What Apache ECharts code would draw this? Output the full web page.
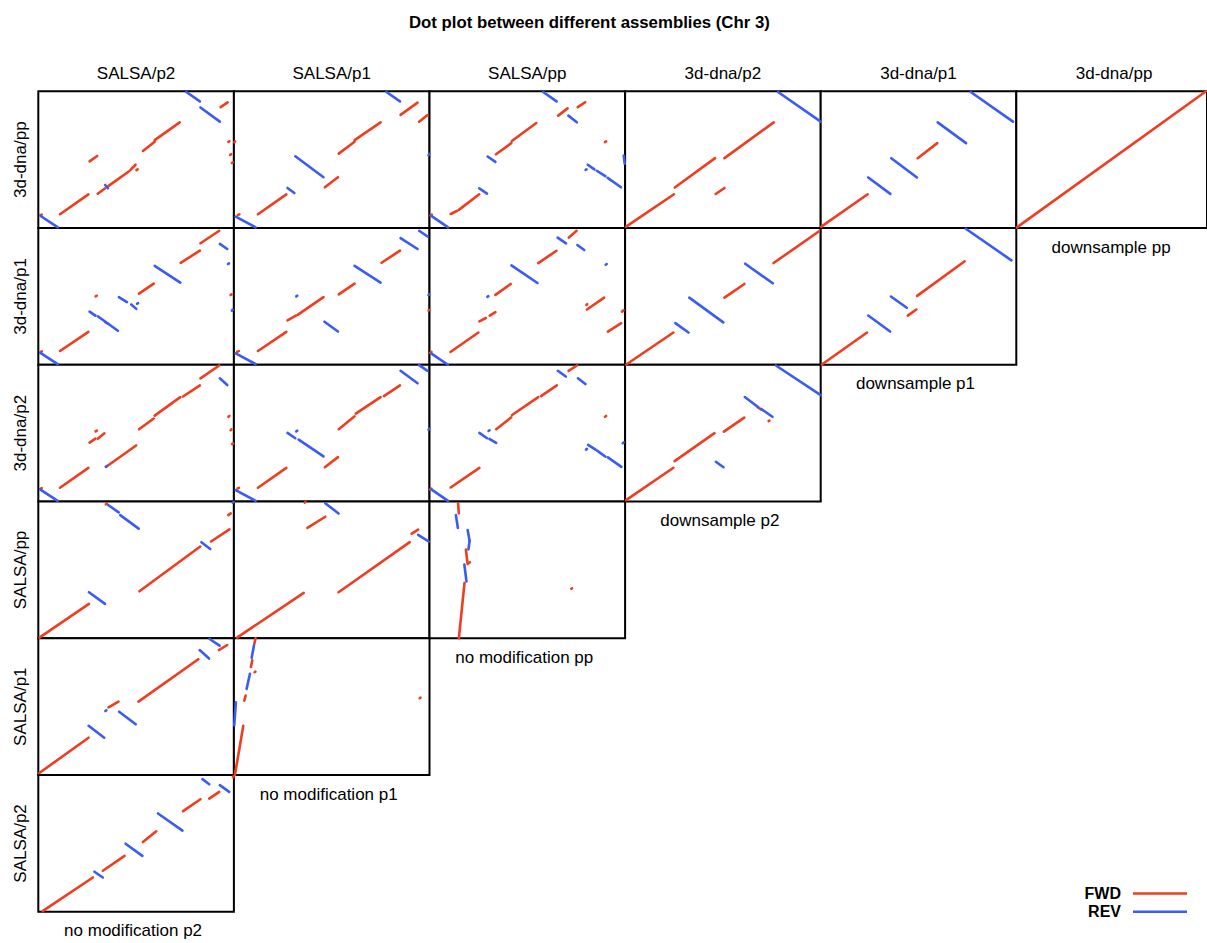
<!DOCTYPE html>
<html>
<head>
<meta charset="utf-8">
<title>Dot plot between different assemblies (Chr 3)</title>
<script src="https://cdn.jsdelivr.net/npm/echarts@6/dist/echarts.min.js"></script>
<style>
  html, body { margin: 0; padding: 0; background: #fff; }
  #chart { width: 1207px; height: 943px; }
</style>
</head>
<body>
<div id="chart"></div>
<script>
// Assembly names along the columns (query) and rows (reference)
const colLabels = ['SALSA/p2', 'SALSA/p1', 'SALSA/pp', '3d-dna/p2', '3d-dna/p1', '3d-dna/pp'];
const rowLabels = ['3d-dna/pp', '3d-dna/p1', '3d-dna/p2', 'SALSA/pp', 'SALSA/p1', 'SALSA/p2'];
// Labels under the self-comparison panels, one per row
const diagLabels = ['downsample pp', 'downsample p1', 'downsample p2', 'no modification pp', 'no modification p1', 'no modification p2'];
const legendLabels = ['FWD', 'REV'];

// Alignment segments in percent of each chromosome: [x1, y1, x2, y2]
// Row 3d-dna/pp
const fwd_Dpp_Sp2 = [[1,9.2,1.8,9.8],[11.1,10.1,25.6,24.6],[30.4,25.1,34.2,29.1],[35.6,30.5,46.4,41.5],[47,42.4,49.7,46.3],[50.2,42.4,50.8,43],[26.2,48.8,30.1,52.7],[53.5,56.4,59.5,63.1],[59.5,64.3,72.3,77.3],[93.2,88.4,96.8,91.9],[97.2,63,97.7,63.5],[98.1,53.5,98.6,54],[99,47.6,99.5,48.1]];
const rev_Dpp_Sp2 = [[1,9,10,0.5],[34.2,31.5,35.6,29.1],[75.7,99.5,82.6,92.6],[82.9,88.2,92.8,77.8]];
const fwd_Dpp_Sp1 = [[2,9.6,2.8,10],[12.3,10.1,26.8,24.6],[46.5,29.8,53.2,37.2],[53.6,54.4,61.7,63.1],[61.7,64.3,75,77.3],[85.2,82.8,93.9,91.7],[94.7,77.8,99,82.6],[0.2,62.8,0.6,63.3]];
const rev_Dpp_Sp1 = [[0.9,8.4,11.1,0.5],[27.4,29.3,30.9,25.6],[31.4,52.5,45.8,37.2],[78,99.5,84.9,92.6],[99.5,53.3,99.9,54.2]];
const fwd_Dpp_Spp = [[0.5,9.2,1.2,9.8],[10.8,10.3,14,12.5],[15,13.3,25.4,24.7],[34,54,41.8,62.1],[42.1,63.6,54.6,76.8],[65.8,82.2,70.6,87.5],[75.8,88.4,79.6,92],[89.7,62.9,90.3,63.4]];
const rev_Dpp_Spp = [[0.9,8.9,9.5,0.5],[25.4,29.1,29.4,25.2],[29.7,52.3,33.7,48.4],[58.1,99.5,65,92.6],[71,82.2,75.3,77.3],[80.9,46.3,84.3,42.9],[85.5,41.9,89.9,37.9],[91.1,36.7,97.9,29.8],[99.3,53,99.8,47],[79.8,42.5,80.3,42.9]];
const fwd_Dpp_Dp2 = [[0.5,1,25,24.7],[25.4,29.6,46,51.1],[50.8,51.1,76,77.3],[46.3,24.9,50.8,29.3]];
const rev_Dpp_Dp2 = [[78.2,99.5,100,77.8]];
const fwd_Dpp_Dp1 = [[0.3,1,24,24.7],[49.6,51.1,59.6,62.1]];
const rev_Dpp_Dp1 = [[24.3,37,35.6,25],[36.1,51.1,49.2,37],[59.8,77.3,74.3,62.1],[76.7,99.5,98.3,77.8]];
const fwd_Dpp_Dpp = [[0.3,0.5,99.5,100]];
const rev_Dpp_Dpp = [];
// Row 3d-dna/p1
const fwd_Dp1_Sp2 = [[1,9.2,1.8,9.8],[11.1,10.1,25.6,24.1],[34.2,31.2,35.4,30.2],[29.3,50,29.9,50.5],[51.5,52,59,59.4],[72.8,74.6,82.6,83.5],[82.9,88.9,92.5,98],[98.3,51,98.8,51.5]];
const rev_Dp1_Sp2 = [[0.9,8.9,9.9,0.5],[26.2,38.9,29.2,36],[30.4,35.5,40.7,24.9],[41.2,49.5,45.3,45.8],[47.5,44.1,50.1,40.9],[50.5,44.6,51,45.1],[59.5,72.4,72.6,60.1],[92.8,88.4,96.6,84.7],[97,73.7,97.5,74.2],[99,39.6,99.4,40.3]];
const fwd_Dp1_Sp1 = [[1.7,9.6,2.5,10],[12.3,10.1,26.8,24.1],[27.4,32.5,31.7,36],[32.6,36.5,45.8,49.5],[53.6,51.5,61.7,59.4],[75.5,74.6,84.9,83.5],[99.5,39.6,99.9,40.2]];
const rev_Dp1_Sp1 = [[0.9,8.4,11.1,0.5],[31.9,50,32.4,50.5],[46.3,31.5,53.2,24.4],[61.7,72.4,75,60.1],[85.2,92.6,93.9,84.7],[94.7,98,99,93.8],[99.5,51,99.9,51.6]];
const fwd_Dp1_Spp = [[0.3,8.8,1,9.4],[10.7,9.4,25,23.6],[25.5,31.8,28.8,34.2],[30.8,36,33.7,38.5],[33.7,51.1,41.5,59.1],[55.6,74.4,64.9,83.4],[71.2,93,75.2,98],[80.5,40.4,89.3,49.1],[80.2,43.8,80.6,44.3],[91.2,24.3,98,30.5],[98.4,38.9,99.2,39.8]];
const rev_Dp1_Spp = [[1,8.2,9.4,0],[29.6,49.7,30.1,50.2],[41.9,72.7,55.2,59.8],[65.5,93,69.8,88.8],[75.6,87.6,79.1,83.9],[90.1,73.2,90.6,73.7]];
const fwd_Dp1_Dp2 = [[0.6,0.2,24.7,23.6],[50.8,49.1,61,59.1],[75.9,74.4,99,97.5]];
const rev_Dp1_Dp2 = [[25.7,30.5,32.4,23.6],[32.8,49.1,50.2,31],[61.4,73.9,75.5,59.6]];
const fwd_Dp1_Dp1 = [[0.6,0.2,23.7,23.6],[44.5,36,48.9,40.4],[49.3,50.4,73.6,75.7]];
const rev_Dp1_Dp1 = [[24.3,36,35.5,24.3],[35.9,49.9,44,41.7],[74.2,99.5,97.5,76.4]];
// Row 3d-dna/p2
const fwd_Dp2_Sp2 = [[1,9.2,1.8,9.8],[11.1,10.1,25.6,24.6],[34.7,25.4,50,41],[26.2,43.1,29.2,46],[30.4,46,33.8,49.9],[29.3,51.3,29.9,51.9],[51.5,52.9,59,60.7],[59.5,62.8,72.6,76.4],[74,76.8,82.6,84.9],[82.9,90.1,92.5,99.5],[97.2,62,97.7,62.6],[98.3,52.2,98.8,52.8],[99.1,42,99.6,42.5]];
const rev_Dp2_Sp2 = [[0.9,8.9,9.9,0.5],[34.5,25.4,35,25.9],[92.8,90.1,96.6,85.2]];
const fwd_Dp2_Sp1 = [[1.9,9.6,2.6,10],[12.3,10.1,26.8,24.6],[46.5,25.1,53.2,32.5],[53.6,52.9,61.7,62.3],[62.3,64.3,75,76.4],[76.7,77.1,84.9,84.9]];
const rev_Dp2_Sp1 = [[0.9,8.4,11.1,0.5],[27.4,50.2,31.4,46.3],[31.9,51.3,32.4,51.8],[33.1,45.3,45.8,33],[85.2,95.6,93.9,86.5],[94.7,99.8,99,95.6],[99.5,52.5,99.9,53.3]];
const fwd_Dp2_Spp = [[0.3,8.8,1,9.4],[10.8,10.3,25.5,24.6],[34.1,52.9,41.8,61.6],[42.2,63.3,55.6,76.4],[57,77.1,65.1,84.9],[71.1,95.6,75.4,99.5],[89.7,62,90.3,62.6]];
const rev_Dp2_Spp = [[0.9,8.9,9.5,0.5],[25.5,50.2,29.4,46.3],[30.2,51.6,30.7,52.1],[30.6,45.8,34.1,42.9],[65.6,95.6,69.7,91.4],[75.9,90.1,79.7,85.9],[81.1,41.5,84.9,38],[80,38,80.5,38.5],[85.7,37.2,90,32.8],[91.2,32.3,98.1,25.4],[98.8,42.6,99.3,43.3]];
const fwd_Dp2_Dp2 = [[0.5,1,24.7,24.7],[25.3,29.6,45.7,50],[50.5,51.1,60.9,61.4],[67.8,69,69.5,67.3],[73.4,58.8,73.8,59.2]];
const rev_Dp2_Dp2 = [[61.2,76.4,68.1,69],[69.5,67.8,75.3,62],[77.1,99.5,100,77.8],[46.4,29.1,50.3,25.1]];
// Row SALSA/pp
const fwd_Spp_Sp2 = [[0.6,0.5,25.9,25.2],[51.7,34.4,82.8,67.1],[88.3,70.8,97.7,79.7],[34.5,98,35,98.5],[97.1,90.1,98.4,91.3]];
const rev_Spp_Sp2 = [[25.9,33.7,34.1,25.2],[35.7,97.5,41.1,92.1],[41.9,90.1,51.3,80.2],[83.4,70.3,87.9,65.3],[99.4,99.2,99.9,99.8]];
const fwd_Spp_Sp1 = [[1.6,0.5,35.7,33.2],[53.5,33.7,89.9,70.3],[90.9,76.5,94.2,79.5],[37.6,80.7,46.7,88.9],[36.2,99.2,36.6,99.7]];
const rev_Spp_Sp1 = [[46.7,98.8,53.5,91.3],[94.2,75.7,99.6,70.8]];
const fwd_Spp_Spp = [[15,0,17.9,40.6],[18.6,64.9,19.5,54.2],[20.3,55.2,20.7,55.6],[14.6,98.8,15,91.3],[72.5,36.2,72.9,36.6]];
const rev_Spp_Spp = [[17.8,54,18.9,41.6],[19.5,79.2,20.5,71.3],[20.5,71.3,19.9,65],[13.5,90.1,14.5,80.7]];
// Row SALSA/p1
const fwd_Sp1_Sp2 = [[0.5,1.5,25.7,27.3],[35.9,49.5,41,53.7],[51.2,53.7,81.8,84.7],[92.3,91.4,96.6,95.1]];
const rev_Sp1_Sp2 = [[25.7,36,33.7,27.3],[34.3,46.8,34.8,47.3],[41.3,46.3,49.8,37.2],[82.5,91.4,87.3,85.2],[87.6,99.5,92.7,94.6]];
const fwd_Sp1_Sp1 = [[0.5,0,4.8,36],[5.3,54.4,6,58.1],[10.6,75.2,11,75.6],[8.7,79,9.4,84],[10.5,96.3,11.1,100],[95,56.2,95.4,56.6]];
const rev_Sp1_Sp1 = [[0.2,36.5,1,53.2],[6.5,63,8.2,74.1],[9.1,85.7,10.3,95.1]];
// Row SALSA/p2
const fwd_Sp2_Sp2 = [[2.2,0.5,27.9,25.1],[33,30,44.1,40.9],[53.5,51,60.3,58.9],[74,73.6,82.9,82.3],[87.4,82.8,92.5,87.7],[99.5,98.5,99.9,99.2]];
const rev_Sp2_Sp2 = [[28.7,29.3,33,25.1],[44.6,49.8,53.2,40.9],[61.2,71.9,73.7,59.4],[83.9,97,87.4,93.3],[92.8,92.6,97.6,87.7]];

// Lower-triangular matrix of panels: [forward, reverse] per cell
const panelRows = [
  [[fwd_Dpp_Sp2, rev_Dpp_Sp2], [fwd_Dpp_Sp1, rev_Dpp_Sp1], [fwd_Dpp_Spp, rev_Dpp_Spp], [fwd_Dpp_Dp2, rev_Dpp_Dp2], [fwd_Dpp_Dp1, rev_Dpp_Dp1], [fwd_Dpp_Dpp, rev_Dpp_Dpp]],
  [[fwd_Dp1_Sp2, rev_Dp1_Sp2], [fwd_Dp1_Sp1, rev_Dp1_Sp1], [fwd_Dp1_Spp, rev_Dp1_Spp], [fwd_Dp1_Dp2, rev_Dp1_Dp2], [fwd_Dp1_Dp1, rev_Dp1_Dp1]],
  [[fwd_Dp2_Sp2, rev_Dp2_Sp2], [fwd_Dp2_Sp1, rev_Dp2_Sp1], [fwd_Dp2_Spp, rev_Dp2_Spp], [fwd_Dp2_Dp2, rev_Dp2_Dp2]],
  [[fwd_Spp_Sp2, rev_Spp_Sp2], [fwd_Spp_Sp1, rev_Spp_Sp1], [fwd_Spp_Spp, rev_Spp_Spp]],
  [[fwd_Sp1_Sp2, rev_Sp1_Sp2], [fwd_Sp1_Sp1, rev_Sp1_Sp1]],
  [[fwd_Sp2_Sp2, rev_Sp2_Sp2]]
];

// Layout
const COL_LEFT = 38.3, COL_STEP = 195.6, PANEL_W = 195.6;
const ROW_TOP = 91.3, ROW_STEP = 136.75, PANEL_H = 136.75;
const FWD_COLOR = '#EF3D1F';
const REV_COLOR = '#3A5CF0';
const LABEL_FONT = '17px "Liberation Sans", Arial, sans-serif';

const grids = [], xAxes = [], yAxes = [], series = [];

function segmentRenderer(color) {
  return function (params, api) {
    const a = api.coord([api.value(0), api.value(1)]);
    const b = api.coord([api.value(2), api.value(3)]);
    return {
      type: 'line',
      shape: { x1: a[0], y1: a[1], x2: b[0], y2: b[1] },
      style: { stroke: color, lineWidth: 2.6, lineCap: 'round' }
    };
  };
}

panelRows.forEach((cells, r) => {
  cells.forEach((pair, c) => {
    const idx = grids.length;
    grids.push({
      left: COL_LEFT + c * COL_STEP,
      top: ROW_TOP + r * ROW_STEP,
      width: PANEL_W,
      height: PANEL_H,
      show: true,
      backgroundColor: '#fff',
      borderColor: '#000',
      borderWidth: 2,
      z: 0
    });
    xAxes.push({ gridIndex: idx, type: 'value', min: 0, max: 100, show: false });
    yAxes.push({ gridIndex: idx, type: 'value', min: 0, max: 100, show: false });
    [[pair[0], FWD_COLOR, 'FWD'], [pair[1], REV_COLOR, 'REV']].forEach(([segs, color, name]) => {
      series.push({
        name: name,
        type: 'custom',
        coordinateSystem: 'cartesian2d',
        xAxisIndex: idx,
        yAxisIndex: idx,
        encode: { x: [0, 2], y: [1, 3] },
        data: segs,
        clip: false,
        silent: true,
        animation: false,
        renderItem: segmentRenderer(color),
        z: 2
      });
    });
  });
});

// Text labels and legend
const graphics = [];
colLabels.forEach((t, c) => {
  graphics.push({
    type: 'text', silent: true,
    style: { text: t, x: COL_LEFT + c * COL_STEP + PANEL_W / 2, y: 73, align: 'center', verticalAlign: 'middle', font: LABEL_FONT, fill: '#000' }
  });
});
rowLabels.forEach((t, r) => {
  graphics.push({
    type: 'text', silent: true,
    x: 20, y: ROW_TOP + r * ROW_STEP + PANEL_H / 2, rotation: Math.PI / 2,
    style: { text: t, x: 0, y: 0, align: 'center', verticalAlign: 'middle', font: LABEL_FONT, fill: '#000' }
  });
});
diagLabels.forEach((t, r) => {
  const c = 5 - r;
  graphics.push({
    type: 'text', silent: true,
    style: { text: t, x: COL_LEFT + c * COL_STEP + PANEL_W / 2 - 3, y: ROW_TOP + (r + 1) * ROW_STEP + 19, align: 'center', verticalAlign: 'middle', font: LABEL_FONT, fill: '#000' }
  });
});
[[legendLabels[0], FWD_COLOR, 893.5], [legendLabels[1], REV_COLOR, 911.7]].forEach(([t, color, y]) => {
  graphics.push({
    type: 'text', silent: true,
    style: { text: t, x: 1121, y: y, align: 'right', verticalAlign: 'middle', font: 'bold 16px "Liberation Sans", Arial, sans-serif', fill: '#000' }
  });
  graphics.push({
    type: 'line', silent: true,
    shape: { x1: 1133, y1: y, x2: 1187, y2: y },
    style: { stroke: color, lineWidth: 2.5 }
  });
});

const chart = echarts.init(document.getElementById('chart'), null, { renderer: 'svg', width: 1207, height: 943 });
chart.setOption({
  backgroundColor: '#fff',
  animation: false,
  title: {
    text: 'Dot plot between different assemblies (Chr 3)',
    left: 404,
    top: 9,
    textStyle: { fontFamily: '"Liberation Sans", Arial, sans-serif', fontWeight: 'bold', fontSize: 16.8, color: '#000' }
  },
  grid: grids,
  xAxis: xAxes,
  yAxis: yAxes,
  series: series,
  graphic: graphics
});
</script>
</body>
</html>
